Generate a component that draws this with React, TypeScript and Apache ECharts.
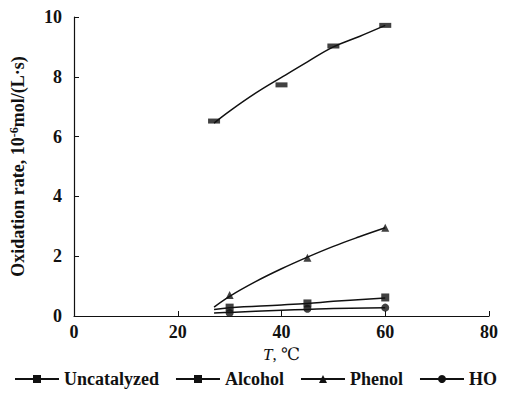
import React, { useEffect, useRef } from "react";
import * as echarts from "echarts";

// Fitted curves
const uncatCurveT = [27, 30, 35, 40, 45, 50, 55, 60];
const uncatCurveV = [6.45, 6.85, 7.45, 7.98, 8.5, 9.0, 9.35, 9.72];
const phenolCurveT = [27, 30, 35, 40, 45, 50, 55, 60];
const phenolCurveV = [0.3, 0.66, 1.15, 1.58, 1.97, 2.33, 2.65, 2.95];
const alcoholCurveT = [27, 30, 40, 45, 50, 60];
const alcoholCurveV = [0.22, 0.28, 0.37, 0.42, 0.49, 0.6];
const hoCurveT = [27, 30, 40, 45, 50, 60];
const hoCurveV = [0.1, 0.12, 0.19, 0.22, 0.25, 0.28];

// Measured points
const uncatT = [27, 40, 50, 60];
const uncatV = [6.52, 7.73, 9.03, 9.72];
const alcoholT = [30, 45, 60];
const alcoholV = [0.28, 0.42, 0.62];
const phenolT = [30, 45, 60];
const phenolV = [0.7, 1.95, 2.95];
const hoT = [30, 45, 60];
const hoV = [0.1, 0.24, 0.28];

const xTicks = [0, 20, 40, 60, 80];
const yTicks = [0, 2, 4, 6, 8, 10];

const FONT = "'Liberation Serif', 'DejaVu Serif', serif";
const INK = "#111";

const pair = (xs: number[], ys: number[]) => xs.map((x, i) => [x, ys[i]]);

export default function App() {
  const ref = useRef<HTMLDivElement>(null);
  useEffect(() => {
    if (!ref.current) return;
    const chart = echarts.init(ref.current, undefined, { renderer: "svg" });
    const curve = (name: string, xs: number[], ys: number[], symbol: string, size: any) => ({
      name,
      type: "line",
      smooth: 0.4,
      symbol,
      symbolSize: size,
      showSymbol: false,
      data: pair(xs, ys),
      lineStyle: { color: INK, width: 1.5 },
      itemStyle: { color: INK },
      z: 2,
    });
    const pts = (name: string, xs: number[], ys: number[], symbol: string, size: any) => ({
      name,
      type: "scatter",
      symbol,
      symbolSize: size,
      data: pair(xs, ys),
      itemStyle: { color: INK },
      z: 3,
    });
    chart.setOption({
      animation: false,
      backgroundColor: "#fff",
      textStyle: { fontFamily: FONT },
      grid: { left: 71, right: 20, top: 17, bottom: 82 },
      legend: {
        left: 14,
        top: 370,
        width: 495,
        padding: 0,
        itemWidth: 44,
        itemHeight: 10,
        itemGap: 16,
        textStyle: { fontFamily: FONT, fontSize: 18, fontWeight: "bold", color: INK },
        data: ["Uncatalyzed", "Alcohol", "Phenol", "HO"],
      },
      xAxis: {
        type: "value",
        min: xTicks[0],
        max: xTicks[xTicks.length - 1],
        interval: 20,
        name: "{i|T}, ℃",
        nameLocation: "middle",
        nameGap: 28,
        nameTextStyle: {
          fontFamily: FONT,
          fontSize: 17,
          color: INK,
          rich: { i: { fontStyle: "italic", fontFamily: FONT, fontSize: 17, color: INK } },
        },
        axisLine: { lineStyle: { color: INK, width: 1.2 } },
        axisTick: { inside: true, length: 5, lineStyle: { color: INK } },
        axisLabel: { fontFamily: FONT, fontSize: 18, fontWeight: "bold", color: INK, margin: 7 },
        splitLine: { show: false },
      },
      yAxis: {
        type: "value",
        min: yTicks[0],
        max: yTicks[yTicks.length - 1],
        interval: 2,
        name: "Oxidation rate, 10{sup|-6}mol/(L·s)",
        nameLocation: "middle",
        nameGap: 46,
        nameTextStyle: {
          fontFamily: FONT,
          fontSize: 18,
          fontWeight: "bold",
          color: INK,
          rich: { sup: { fontFamily: FONT, fontSize: 12, fontWeight: "bold", color: INK, verticalAlign: "top", padding: [0, 0, 8, 0] } },
        },
        axisLine: { show: true, lineStyle: { color: INK, width: 1.2 } },
        axisTick: { show: true, inside: true, length: 5, lineStyle: { color: INK } },
        axisLabel: { fontFamily: FONT, fontSize: 18, fontWeight: "bold", color: INK, margin: 12 },
        splitLine: { show: false },
      },
      series: [
        curve("Uncatalyzed", uncatCurveT, uncatCurveV, "rect", [12, 5]),
        curve("Alcohol", alcoholCurveT, alcoholCurveV, "rect", 8),
        curve("Phenol", phenolCurveT, phenolCurveV, "triangle", 8),
        curve("HO", hoCurveT, hoCurveV, "circle", 8),
        pts("Uncatalyzed", uncatT, uncatV, "rect", [12, 5]),
        pts("Alcohol", alcoholT, alcoholV, "rect", 8),
        pts("Phenol", phenolT, phenolV, "triangle", 8),
        pts("HO", hoT, hoV, "circle", 8),
      ],
    });
    return () => chart.dispose();
  }, []);
  return (
    <div
      ref={ref}
      style={{ position: "absolute", left: 0, top: 0, width: 509, height: 398 }}
    />
  );
}
